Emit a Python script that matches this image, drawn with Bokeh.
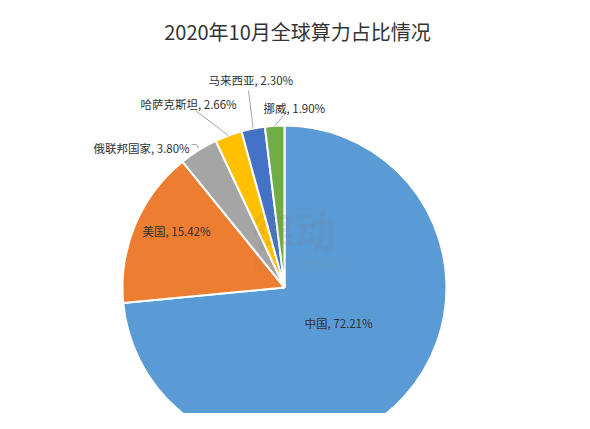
import math
from bokeh.plotting import figure
from bokeh.models import Range1d, ColumnDataSource
from bokeh.core.properties import value
from bokeh.embed import file_html
from bokeh.resources import INLINE

# ---- data ----
countries = ["中国", "美国", "俄联邦国家", "哈萨克斯坦", "马来西亚", "挪威"]
shares = [72.21, 15.42, 3.80, 2.66, 2.30, 1.90]
colors = ["#5B9BD5", "#ED7D31", "#A5A5A5", "#FFC000", "#4472C4", "#70AD47"]
title_text = "2020年10月全球算力占比情况"

# ---- layout (picture pixel coords; y measured from top) ----
W, H = 574, 413
CX, CY, R = 284, 287, 162
label_pos = [(304, 322), (142, 230), (93, 147), (140, 103), (208, 79), (263, 107)]
leader_start = [None, None, (191, 144), (195, 110), (248, 90), (285, 113)]

def Y(y):
    return H - y

p = figure(width=W, height=H, output_backend="svg", toolbar_location=None,
           x_range=Range1d(0, W), y_range=Range1d(0, H), min_border=0)
p.axis.visible = False
p.grid.visible = False
p.outline_line_color = None
p.background_fill_color = "white"

total = sum(shares)
starts, ends, mids = [], [], []
cum = 0.0
for s in shares:
    a = cum / total
    cum += s
    b = cum / total
    starts.append(math.pi / 2 - 2 * math.pi * b)
    ends.append(math.pi / 2 - 2 * math.pi * a)
    mids.append(math.pi / 2 - 2 * math.pi * (a + b) / 2)

src = ColumnDataSource(dict(x=[CX] * len(shares), y=[Y(CY)] * len(shares),
                            start=starts, end=ends, color=colors))
p.wedge(x="x", y="y", radius=R, start_angle="start", end_angle="end",
        fill_color="color", line_color="white", line_width=2, source=src)

# watermark
p.text(x=[252], y=[Y(228)], text=["律动"], text_font=value("Noto Sans CJK SC"),
       text_font_size="42px", text_color="#7a7a7a", text_alpha=0.14,
       text_align="left", text_baseline="middle", text_font_style="bold")
p.text(x=[252], y=[Y(264)], text=["BLOCKBEATS"], text_font=value("DejaVu Sans"),
       text_font_size="15px", text_color="#8a8a8a", text_alpha=0.16,
       text_align="left", text_baseline="middle")

# leader lines
for i, st in enumerate(leader_start):
    if st is None:
        continue
    ex = CX + R * math.cos(mids[i])
    ey = Y(CY) + R * math.sin(mids[i])
    if i == 2:
        p.line([st[0], st[0] + 5, ex], [Y(st[1]), Y(st[1]), ey + 2],
               line_color="#A6A6A6", line_width=1)
    else:
        p.line([st[0], ex], [Y(st[1]), ey], line_color="#A6A6A6", line_width=1)

labels = [f"{c}, {s:.2f}%" for c, s in zip(countries, shares)]
p.text(x=[lp[0] for lp in label_pos], y=[Y(lp[1]) for lp in label_pos], text=labels,
       text_font=value("Noto Sans CJK SC"), text_font_size="11.5px",
       text_color="#303030", text_align="left", text_baseline="middle")

p.text(x=[297], y=[Y(31)], text=[title_text], text_font=value("Noto Sans CJK SC"),
       text_font_size="20px", text_color="#333333", text_align="center",
       text_baseline="middle")

open("out.html", "w").write(file_html(p, INLINE))
